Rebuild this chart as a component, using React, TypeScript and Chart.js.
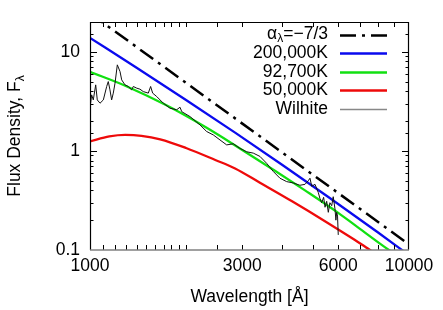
import React, { useEffect, useRef } from 'react';
import { Chart, registerables } from 'chart.js';
Chart.register(...registerables);

const FONT = '"Liberation Sans", Arial, Helvetica, sans-serif';
const FS = 17.5;

// axis tick labels
const xTickLabels = [1000, 3000, 6000, 10000];
const yTickLabels = [0.1, 1, 10];

// power law alpha_lambda = -7/3
const powerLawWl = [1000, 10000];
const powerLawF = [24.5, 0.114];

// 200,000 K
const bb200Wl = [1000, 1400, 2000, 2850, 4000, 5600, 8000, 10000];
const bb200F = [13.8, 6.92, 3.27, 1.53, 0.726, 0.341, 0.15, 0.0888];

// 92,700 K
const bb92Wl = [1000, 1300, 1730, 2300, 2950, 3800, 4720, 6000, 6770, 8650, 9500];
const bb92F = [6.28, 4.5, 2.9, 1.74, 1.06, 0.632, 0.4, 0.237, 0.178, 0.1, 0.082];

// 50,000 K
const bb50Wl = [1000, 1150, 1290, 1450, 1660, 2000, 2470, 2850, 3400, 4300, 5500, 6770, 7450, 8000];
const bb50F = [1.25, 1.4, 1.45, 1.42, 1.31, 1.07, 0.81, 0.665, 0.48, 0.31, 0.192, 0.126, 0.103, 0.087];

// Wilhite spectrum
const wilhiteWl = [1000, 1012, 1024, 1042, 1054, 1075, 1101, 1128, 1141, 1155, 1169, 1183, 1198, 1218, 1242, 1257, 1287, 1318, 1351, 1367, 1401, 1434, 1469, 1523, 1549, 1572, 1618, 1698, 1781, 1869, 1915, 1939, 2059, 2212, 2321, 2435, 2556, 2682, 2814, 2952, 3098, 3250, 3410, 3578, 3755, 3940, 4134, 4338, 4551, 4720, 4834, 4893, 4955, 5074, 5196, 5260, 5324, 5400, 5455, 5520, 5585, 5650, 5724, 5787, 5861, 5900, 5934, 5970, 6001];
const wilhiteF = [2.7, 3.68, 3.27, 4.64, 3.27, 3.03, 3.27, 4.47, 5.01, 4.13, 3.27, 3.83, 4.83, 7.39, 6.32, 5.21, 4.64, 4.47, 4.13, 4.47, 4.3, 4.2, 3.97, 3.83, 4.47, 3.83, 3.54, 3.03, 2.7, 2.6, 2.76, 2.49, 2.22, 1.83, 1.57, 1.45, 1.29, 1.15, 1.18, 1.06, 0.98, 0.95, 0.88, 0.75, 0.62, 0.53, 0.49, 0.475, 0.45, 0.46, 0.5, 0.53, 0.44, 0.46, 0.38, 0.33, 0.3, 0.34, 0.27, 0.31, 0.24, 0.3, 0.28, 0.345, 0.26, 0.2, 0.24, 0.22, 0.142];

const pts = (xs: number[], ys: number[]) => xs.map((x, i) => ({ x, y: ys[i] }));

type Seg = [string, number, number];
const legendRows: { segs: Seg[]; ds: number }[] = [
  { segs: [['α', FS, 0], ['λ', 12, 4], ['=−7/3', FS, 0]], ds: 0 },
  { segs: [['200,000K', FS, 0]], ds: 1 },
  { segs: [['92,700K', FS, 0]], ds: 2 },
  { segs: [['50,000K', FS, 0]], ds: 3 },
  { segs: [['Wilhite', FS, 0]], ds: 4 },
];

function segWidth(ctx: CanvasRenderingContext2D, segs: Seg[]) {
  let w = 0;
  for (const [t, s] of segs) {
    ctx.font = `${s}px ${FONT}`;
    w += ctx.measureText(t).width;
  }
  return w;
}
function drawSegs(ctx: CanvasRenderingContext2D, segs: Seg[], x: number, y: number) {
  let cx = x;
  for (const [t, s, dy] of segs) {
    ctx.font = `${s}px ${FONT}`;
    ctx.fillText(t, cx, y + dy);
    cx += ctx.measureText(t).width;
  }
}

const decor = {
  id: 'decor',
  afterDatasetsDraw(chart: any) {
    const { ctx, chartArea: a, scales } = chart;
    const xs = scales.x, ys = scales.y;
    ctx.save();
    const line = (x1: number, y1: number, x2: number, y2: number) => {
      ctx.beginPath(); ctx.moveTo(x1, y1); ctx.lineTo(x2, y2); ctx.stroke();
    };
    ctx.strokeStyle = '#000';
    ctx.lineWidth = 1;
    ctx.setLineDash([]);
    xs.ticks.forEach((t: any) => {
      const v = t.value;
      if (v <= 1000.001 || v >= 9999.999) return;
      const px = Math.round(xs.getPixelForValue(v)) + 0.5;
      line(px, a.bottom, px, a.bottom - 5);
      line(px, a.top, px, a.top + 5);
    });
    ys.ticks.forEach((t: any) => {
      const v = t.value;
      if (v <= 0.10001 || v >= 19.999) return;
      const lg = Math.log10(v);
      const major = Math.abs(lg - Math.round(lg)) < 1e-6;
      const len = major ? 7 : 3.5;
      const py = Math.round(ys.getPixelForValue(v)) + 0.5;
      line(a.left, py, a.left + len, py);
      line(a.right, py, a.right - len, py);
    });
    // frame
    ctx.lineWidth = 1.2;
    line(a.left + 0.5, a.top, a.left + 0.5, a.bottom);
    line(a.left, a.top + 0.5, a.right, a.top + 0.5);
    line(a.right - 0.5, a.top, a.right - 0.5, a.bottom);
    ctx.strokeStyle = '#808080';
    ctx.lineWidth = 1.6;
    line(a.left, a.bottom, a.right, a.bottom);
    ctx.restore();
  },
  afterDraw(chart: any) {
    const { ctx, chartArea: a } = chart;
    ctx.save();
    ctx.fillStyle = '#000';
    // legend
    ctx.textBaseline = 'middle';
    legendRows.forEach((row, i) => {
      const y = 34.5 + i * 18.6;
      const w = segWidth(ctx, row.segs);
      drawSegs(ctx, row.segs, 328 - w, y);
      const ds = chart.data.datasets[row.ds];
      ctx.save();
      ctx.strokeStyle = row.ds === 4 ? '#888888' : ds.borderColor;
      ctx.lineWidth = row.ds === 4 ? 1.5 : ds.borderWidth;
      ctx.setLineDash(ds.borderDash || []);
      ctx.beginPath();
      ctx.moveTo(340, Math.round(y) + 0.5);
      ctx.lineTo(387, Math.round(y) + 0.5);
      ctx.stroke();
      ctx.restore();
    });
    // x title
    ctx.textBaseline = 'alphabetic';
    ctx.textAlign = 'center';
    ctx.font = `${FS}px ${FONT}`;
    ctx.fillText('Wavelength [Å]', (a.left + a.right) / 2, 301.5);
    // y title
    ctx.textAlign = 'left';
    const ySegs: Seg[] = [['Flux Density, F', FS, 0], ['λ', 12, 4]];
    const w = segWidth(ctx, ySegs);
    ctx.translate(19.5, (a.top + a.bottom) / 2);
    ctx.rotate(-Math.PI / 2);
    drawSegs(ctx, ySegs, -w / 2, 0);
    ctx.restore();
  },
};

export default function App() {
  const ref = useRef<HTMLCanvasElement>(null);
  useEffect(() => {
    const common = { pointRadius: 0, fill: false, borderCapStyle: 'butt' as const };
    const chart = new Chart(ref.current!, {
      type: 'line',
      data: {
        datasets: [
          { ...common, label: 'αλ=−7/3', data: pts(powerLawWl, powerLawF), borderColor: '#000000', borderWidth: 2.5, borderDash: [16, 6, 3, 6], order: 1 },
          { ...common, label: '200,000K', data: pts(bb200Wl, bb200F), borderColor: '#0a0aee', borderWidth: 2.3, cubicInterpolationMode: 'monotone', order: 2 },
          { ...common, label: '92,700K', data: pts(bb92Wl, bb92F), borderColor: '#11e011', borderWidth: 2.3, cubicInterpolationMode: 'monotone', order: 3 },
          { ...common, label: '50,000K', data: pts(bb50Wl, bb50F), borderColor: '#ee0a0a', borderWidth: 2.3, cubicInterpolationMode: 'monotone', order: 4 },
          { ...common, label: 'Wilhite', data: pts(wilhiteWl, wilhiteF), borderColor: '#111111', borderWidth: 1, tension: 0, order: 0 },
        ],
      } as any,
      options: {
        animation: false,
        responsive: false,
        maintainAspectRatio: false,
        layout: { padding: { left: 8, right: 34, top: 22, bottom: 0 } },
        plugins: { legend: { display: false }, tooltip: { enabled: false } },
        scales: {
          x: {
            type: 'logarithmic',
            min: 1000,
            max: 10000,
            grid: { display: false, drawTicks: false },
            border: { display: false },
            ticks: {
              autoSkip: false,
              maxRotation: 0,
              padding: 6,
              color: '#000',
              font: { family: FONT, size: FS },
              callback: (v: any) => {
                const n = Number(v);
                return xTickLabels.some((t) => Math.abs(t - n) < 1e-6) ? String(n) : '';
              },
            },
            afterFit: (s: any) => { s.height = 60; },
          },
          y: {
            type: 'logarithmic',
            min: 0.1,
            max: 20,
            grid: { display: false, drawTicks: false },
            border: { display: false },
            ticks: {
              autoSkip: false,
              padding: 10,
              color: '#000',
              font: { family: FONT, size: FS },
              callback: (v: any) => {
                const n = Number(v);
                const hit = yTickLabels.find((t) => Math.abs(t - n) < 1e-9 * Math.max(1, t));
                return hit !== undefined ? String(hit) : '';
              },
            },
            afterFit: (s: any) => { s.width = 82; },
          },
        },
      } as any,
      plugins: [decor],
    });
    return () => chart.destroy();
  }, []);
  return (
    <div style={{ position: 'fixed', left: 0, top: 0, width: 443, height: 310, background: '#fff' }}>
      <canvas ref={ref} width={443} height={310} style={{ display: 'block', width: 443, height: 310 }} />
    </div>
  );
}
